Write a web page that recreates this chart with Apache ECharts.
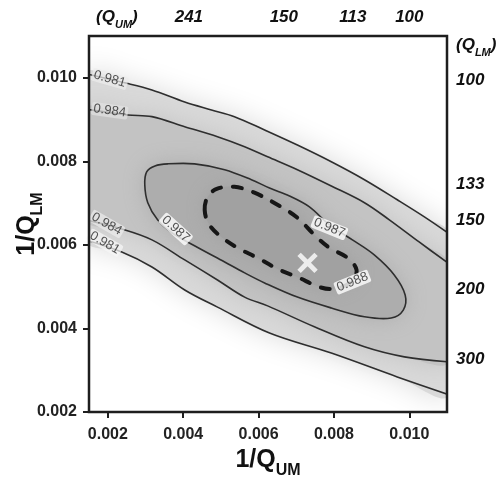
<!DOCTYPE html>
<html><head><meta charset="utf-8">
<script src="https://cdn.jsdelivr.net/npm/echarts@6/dist/echarts.min.js"></script>
<style>html,body{margin:0;padding:0;background:#fff}#c{width:501px;height:477px}</style>
</head><body><div id="c"></div>
<script>
// ---- data (axis units: 1/Q_UM on x, 1/Q_LM on y) ----
const xTickValues = [0.002, 0.004, 0.006, 0.008, 0.010];
const yTickValues = [0.002, 0.004, 0.006, 0.008, 0.010];
const qUMLabels = ['(Q_UM)', '241', '150', '113', '100'];
const qUMValues = [0.00224, 0.00415, 0.00667, 0.0085, 0.0100];
const qLMLabels = ['(Q_LM)', '100', '133', '150', '200', '300'];
const qLMValues = [0.01072, 0.0100, 0.00752, 0.00667, 0.0050, 0.00333];

const contour981Upper = [[0.00140,0.01010],[0.00245,0.00988],[0.00317,0.00971],[0.00404,0.00942],[0.00475,0.00923],[0.00536,0.00907],[0.00616,0.00875],[0.00703,0.00839],[0.00793,0.00799],[0.00881,0.00756],[0.00968,0.00708],[0.01040,0.00667],[0.01105,0.00627]];
const contour984Upper = [[0.00140,0.00925],[0.00253,0.00911],[0.00317,0.00907],[0.00404,0.00883],[0.00491,0.00859],[0.00563,0.00835],[0.00624,0.00811],[0.00703,0.00780],[0.00793,0.00741],[0.00881,0.00701],[0.00947,0.00660],[0.01026,0.00607],[0.01105,0.00555]];
const contour984Lower = [[0.00140,0.00660],[0.00237,0.00638],[0.00317,0.00612],[0.00404,0.00564],[0.00491,0.00516],[0.00563,0.00475],[0.00624,0.00454],[0.00748,0.00404],[0.00881,0.00356],[0.00987,0.00332],[0.01105,0.00320]];
const contour981Lower = [[0.00140,0.00612],[0.00237,0.00583],[0.00317,0.00547],[0.00404,0.00492],[0.00491,0.00451],[0.00629,0.00389],[0.00793,0.00341],[0.00968,0.00284],[0.01105,0.00241]];
const contour987 = [[0.00298,0.00744],[0.00303,0.00775],[0.00325,0.00789],[0.00359,0.00794],[0.00430,0.00794],[0.00510,0.00780],[0.00581,0.00756],[0.00629,0.00736],[0.00682,0.00717],[0.00735,0.00691],[0.00788,0.00648],[0.00849,0.00612],[0.00907,0.00576],[0.00960,0.00528],[0.00989,0.00480],[0.00984,0.00444],[0.00952,0.00425],[0.00881,0.00428],[0.00793,0.00449],[0.00703,0.00475],[0.00616,0.00509],[0.00563,0.00533],[0.00510,0.00559],[0.00430,0.00598],[0.00370,0.00629],[0.00332,0.00660],[0.00306,0.00701]];
const contour988 = [[0.00457,0.00684],[0.00465,0.00715],[0.00489,0.00734],[0.00536,0.00739],[0.00589,0.00725],[0.00656,0.00693],[0.00703,0.00665],[0.00748,0.00624],[0.00788,0.00593],[0.00836,0.00569],[0.00860,0.00540],[0.00846,0.00511],[0.00801,0.00495],[0.00762,0.00499],[0.00703,0.00523],[0.00656,0.00540],[0.00597,0.00569],[0.00544,0.00593],[0.00497,0.00622],[0.00468,0.00650]];
const contourLabelText = ['0.981', '0.984', '0.984', '0.981', '0.987', '0.987', '0.988'];
const contourLabelAt = [[0.00205,0.00997],[0.00205,0.00921],[0.00197,0.00650],[0.00192,0.00605],[0.00380,0.00638],[0.00788,0.00641],[0.00849,0.00511]];
const bestFit = [[0.00730, 0.00557]];

// ---- styling (not data) ----
const labelRotate = [-16, -8, -30, -30, -42, -22, 22];
const labelBg = ['rgba(236,236,236,0.9)','rgba(226,226,226,0.9)','rgba(236,236,236,0.9)','rgba(246,246,246,0.9)','#fff','#fff','#fff'];
const FONT = 'Liberation Sans, Arial, Helvetica, sans-serif';

const fills = [
  {pts: contour981Upper.concat(contour981Lower.slice().reverse()), fill: '#d9d9d9', blur: 30},
  {pts: contour984Upper.concat(contour984Lower.slice().reverse()), fill: '#c3c3c3', blur: 24},
  {pts: contour987, fill: '#adadad', blur: 22},
  {pts: contour988, fill: '#a1a1a1', blur: 18}
];
const strokes = [
  {pts: contour981Upper, closed: false},
  {pts: contour981Lower, closed: false},
  {pts: contour984Upper, closed: false},
  {pts: contour984Lower, closed: false},
  {pts: contour987, closed: true},
  {pts: contour988, closed: true, dashed: true}
];

function nearestIdx(arr, v) {
  let best = 0;
  arr.forEach((a, i) => { if (Math.abs(a - v) < Math.abs(arr[best] - v)) best = i; });
  return best;
}
const it = {fontFamily: FONT, fontStyle: 'italic', fontWeight: 'bold', color: '#111'};
const topRich = {
  a: Object.assign({fontSize: 17, verticalAlign: 'bottom', padding: [0,0,4,0]}, it),
  b: Object.assign({fontSize: 11, verticalAlign: 'bottom'}, it)
};
const rightRich = {
  a: Object.assign({fontSize: 17, verticalAlign: 'bottom', padding: [0,0,4,0]}, it),
  b: Object.assign({fontSize: 11, verticalAlign: 'bottom'}, it),
  n: Object.assign({fontSize: 17, padding: [6,0,0,0]}, it)
};
function qLabel(t, numStyle) {
  if (t.indexOf('_') >= 0) {
    const m = t.match(/\((\w)_(\w+)\)/);
    return '{a|(' + m[1] + '}{b|' + m[2] + '}{a|)}';
  }
  return '{' + numStyle + '|' + t + '}';
}
const nameRich = {
  a: {fontFamily: FONT, fontSize: 25, fontWeight: 'bold', color: '#111', verticalAlign: 'bottom', padding: [0,0,6,0]},
  b: {fontFamily: FONT, fontSize: 16, fontWeight: 'bold', color: '#111', verticalAlign: 'bottom'}
};

const chart = echarts.init(document.getElementById('c'), null, {renderer: 'canvas'});
chart.setOption({
  animation: false,
  backgroundColor: '#fff',
  textStyle: {fontFamily: FONT},
  grid: {left: 89, right: 54, top: 36, bottom: 65, show: true, borderColor: '#1e1e1e', borderWidth: 2.5, backgroundColor: 'transparent', z: 10,
         containLabel: false, outerBoundsMode: 'none'},
  xAxis: [{
    type: 'value', min: 0.0015, max: 0.011, position: 'bottom',
    axisLine: {show: false}, splitLine: {show: false},
    axisTick: {show: true, customValues: xTickValues, length: 6, lineStyle: {color: '#1e1e1e', width: 2}},
    axisLabel: {customValues: xTickValues, formatter: v => v.toFixed(3), margin: 15, fontSize: 16, fontWeight: 'bold', color: '#222'},
    name: '{a|1/Q}{b|UM}', nameLocation: 'middle', nameGap: 36, nameMoveOverlap: false,
    nameTextStyle: {rich: nameRich}
  }, {
    type: 'value', min: 0.0015, max: 0.011, position: 'top',
    axisLine: {show: false}, splitLine: {show: false}, axisTick: {show: false},
    axisLabel: {customValues: qUMValues, margin: 6, formatter: v => qLabel(qUMLabels[nearestIdx(qUMValues, v)], 'a'), rich: topRich}
  }],
  yAxis: [{
    type: 'value', min: 0.002, max: 0.011, position: 'left',
    axisLine: {show: false}, splitLine: {show: false},
    axisTick: {show: true, customValues: yTickValues, length: 6, lineStyle: {color: '#1e1e1e', width: 2}},
    axisLabel: {customValues: yTickValues, formatter: v => v.toFixed(3), margin: 12, fontSize: 16, fontWeight: 'bold', color: '#222'},
    name: '{a|1/Q}{b|LM}', nameLocation: 'middle', nameGap: 43, nameRotate: 90, nameMoveOverlap: false,
    nameTextStyle: {rich: nameRich}
  }, {
    type: 'value', min: 0.002, max: 0.011, position: 'right',
    axisLine: {show: false}, splitLine: {show: false}, axisTick: {show: false},
    axisLabel: {customValues: qLMValues, margin: 9, formatter: v => qLabel(qLMLabels[nearestIdx(qLMValues, v)], 'n'), rich: rightRich}
  }],
  series: [{
    type: 'custom', name: 'shading', clip: true, z: 1,
    data: fills.map(f => f.pts[0]),
    renderItem: (params, api) => {
      const f = fills[params.dataIndex];
      return {type: 'polygon', shape: {points: f.pts.map(p => api.coord(p)), smooth: 0.35},
        style: {fill: f.fill, shadowBlur: f.blur, shadowColor: f.fill}};
    }
  }, {
    type: 'custom', name: 'contours', clip: true, z: 2,
    data: strokes.map(s => s.pts[0]),
    renderItem: (params, api) => {
      const s = strokes[params.dataIndex];
      return {type: s.closed ? 'polygon' : 'polyline', shape: {points: s.pts.map(p => api.coord(p)), smooth: 0.35},
        style: s.dashed ? {fill: null, stroke: '#161616', lineWidth: 4, lineDash: [9, 12], lineCap: 'round'}
                        : {fill: null, stroke: '#2e2e2e', lineWidth: 1.6}};
    }
  }, {
    type: 'scatter', name: 'labels', z: 3, symbolSize: 0.1, itemStyle: {color: 'rgba(0,0,0,0)'},
    data: contourLabelAt.map((p, i) => ({value: p, name: contourLabelText[i],
      label: {show: true, position: 'inside', formatter: '{b}', rotate: labelRotate[i], fontSize: 13, color: '#2a2a2a',
        backgroundColor: labelBg[i], padding: [0, 2], borderRadius: 2}}))
  }, {
    type: 'scatter', name: 'best', z: 4, data: bestFit,
    symbol: 'path://M4,0 H6 V4 H10 V6 H6 V10 H4 V6 H0 V4 H4 Z', symbolRotate: 45, symbolSize: 24,
    itemStyle: {color: '#fff'}
  }]
});
</script></body></html>
